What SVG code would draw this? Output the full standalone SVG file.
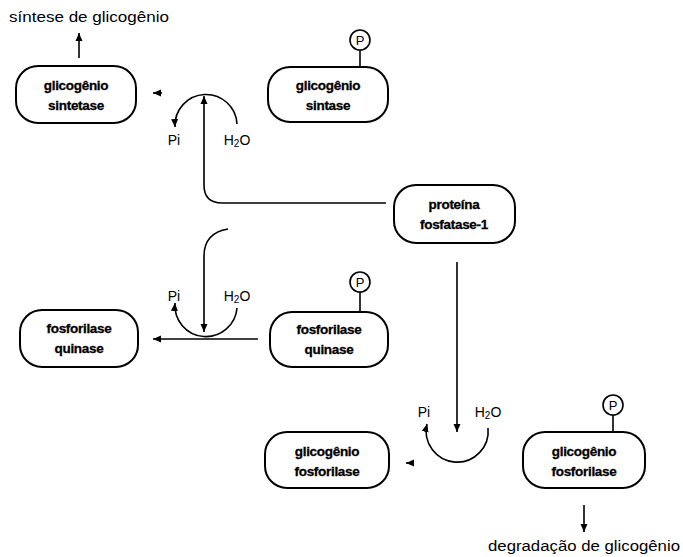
<svg xmlns="http://www.w3.org/2000/svg" width="683" height="557" viewBox="0 0 683 557">
<style>
.box{fill:#fff;stroke:#000;stroke-width:2}
.bt{font-family:"Liberation Sans",Arial,sans-serif;font-weight:bold;font-size:13.5px;text-anchor:middle;letter-spacing:-0.3px;stroke:#000;stroke-width:0.3}
.lb{font-family:"Liberation Sans",Arial,sans-serif;font-size:14px;text-anchor:middle}
.ln{fill:none;stroke:#000;stroke-width:1.6}
.pc{fill:#fff;stroke:#000;stroke-width:1.6}
.pt{font-family:"Liberation Sans",Arial,sans-serif;font-size:13px;text-anchor:middle}
</style>
<defs>
<marker id="ah" markerUnits="userSpaceOnUse" markerWidth="9" markerHeight="8" refX="8" refY="4" orient="auto">
<path d="M0,0.5 L8,4 L0,7.5 z" fill="#000"/>
</marker>
</defs>
<g id="connectors">
<path class="ln" d="M79,58 V33" marker-end="url(#ah)"/>
<path class="ln" d="M162,93 H153" marker-end="url(#ah)"/>
<path class="ln" d="M237,124 A31,31 0 1 0 175,127" marker-end="url(#ah)"/>
<path class="ln" d="M386,203 H222 Q204,203 204,185 V96" marker-end="url(#ah)"/>
<path class="ln" d="M228,229 Q204,233 204,256 V332" marker-end="url(#ah)"/>
<path class="ln" d="M258,339 H153" marker-end="url(#ah)"/>
<path class="ln" d="M237,308 A31,31 0 1 1 175,303" marker-end="url(#ah)"/>
<path class="ln" d="M457,262 V432" marker-end="url(#ah)"/>
<path class="ln" d="M488,428 A31,31 0 1 1 427,424" marker-end="url(#ah)"/>
<path class="ln" d="M414,463 H406" marker-end="url(#ah)"/>
<path class="ln" d="M584,505 V532" marker-end="url(#ah)"/>
<path class="ln" d="M360,50 V67"/>
<path class="ln" d="M360,292 V312"/>
<path class="ln" d="M613,415 V432"/>
</g>
<g id="labels">
<text class="lb" x="89" y="22" textLength="160" lengthAdjust="spacingAndGlyphs">síntese de glicogênio</text>
<text class="lb" x="174" y="145">Pi</text>
<text class="lb" x="237" y="145">H<tspan font-size="10" dy="2">2</tspan><tspan dy="-2">O</tspan></text>
<text class="lb" x="174" y="301">Pi</text>
<text class="lb" x="237" y="301">H<tspan font-size="10" dy="2">2</tspan><tspan dy="-2">O</tspan></text>
<text class="lb" x="424" y="417">Pi</text>
<text class="lb" x="488" y="417">H<tspan font-size="10" dy="2">2</tspan><tspan dy="-2">O</tspan></text>
<text class="lb" x="584" y="551" textLength="192" lengthAdjust="spacingAndGlyphs">degradação de glicogênio</text>
</g>
<g id="glicogenio-sintetase">
<rect class="box" x="16" y="66" width="120" height="57" rx="22"/>
<text class="bt" x="76" y="90">glicogênio</text>
<text class="bt" x="76" y="110">sintetase</text>
</g>
<g id="glicogenio-sintase-p">
<rect class="box" x="268" y="67" width="120" height="55" rx="22"/>
<text class="bt" x="328" y="90">glicogênio</text>
<text class="bt" x="328" y="110">sintase</text>
<circle class="pc" cx="360" cy="40" r="10"/>
<text class="pt" x="360" y="45">P</text>
</g>
<g id="proteina-fosfatase-1">
<rect class="box" x="394" y="185" width="121" height="58" rx="22"/>
<text class="bt" x="454" y="209">proteína</text>
<text class="bt" x="454" y="229">fosfatase-1</text>
</g>
<g id="fosforilase-quinase">
<rect class="box" x="20" y="310" width="118" height="57" rx="22"/>
<text class="bt" x="79" y="333">fosforilase</text>
<text class="bt" x="79" y="353">quinase</text>
</g>
<g id="fosforilase-quinase-p">
<rect class="box" x="270" y="312" width="118" height="55" rx="22"/>
<text class="bt" x="329" y="334">fosforilase</text>
<text class="bt" x="329" y="354">quinase</text>
<circle class="pc" cx="360" cy="282" r="10"/>
<text class="pt" x="360" y="287">P</text>
</g>
<g id="glicogenio-fosforilase">
<rect class="box" x="265" y="432" width="124" height="56" rx="22"/>
<text class="bt" x="327" y="456">glicogênio</text>
<text class="bt" x="327" y="476">fosforilase</text>
</g>
<g id="glicogenio-fosforilase-p">
<rect class="box" x="523" y="432" width="122" height="56" rx="22"/>
<text class="bt" x="584" y="456">glicogênio</text>
<text class="bt" x="584" y="476">fosforilase</text>
<circle class="pc" cx="613" cy="405" r="10"/>
<text class="pt" x="613" y="410">P</text>
</g>
</svg>
